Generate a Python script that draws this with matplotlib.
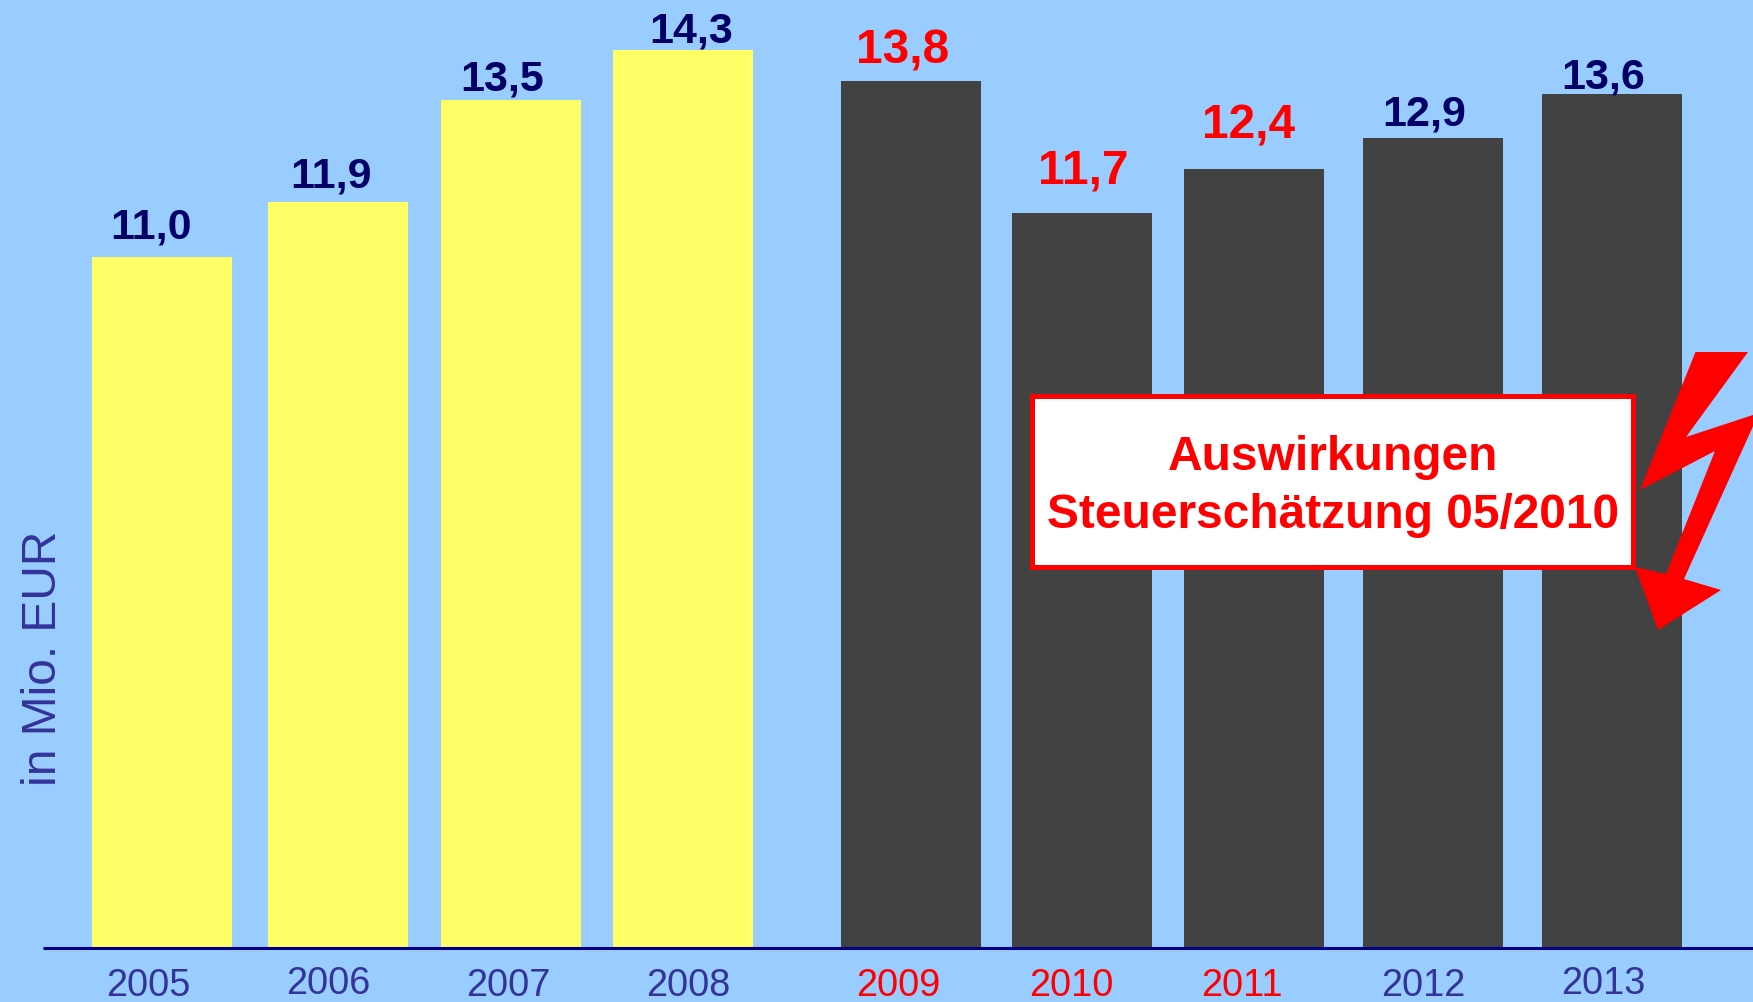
import matplotlib
matplotlib.use("Agg")
import matplotlib.pyplot as plt
from matplotlib.patches import Polygon, Rectangle

years = ["2005", "2006", "2007", "2008", "2009", "2010", "2011", "2012", "2013"]
values = [11.0, 11.87, 13.5, 14.29, 13.8, 11.7, 12.4, 12.89, 13.59]
value_labels = ["11,0", "11,9", "13,5", "14,3", "13,8", "11,7", "12,4", "12,9", "13,6"]
highlighted = [False, False, False, False, True, True, True, False, False]

# Layout, in reference pixels
W, H = 1753, 1002
BASE_Y = 947.5
PX_PER_UNIT = 62.8
bar_centers = [162, 338, 511, 683, 911, 1082, 1254, 1433, 1612]
bar_width = 140
year_pos = [(148, 986.5), (328, 984.5), (508, 985.5), (688, 985.5), (898, 985.5),
            (1071, 985.5), (1242, 985.5), (1423, 985.5), (1603, 983.5)]
label_pos = [(151, 227), (331, 176), (502, 79), (691, 31), (903, 51),
             (1083, 171), (1249, 126), (1424, 114), (1603, 77)]
bolt = [(1695.5, 352), (1748, 352), (1686, 437), (1759, 413), (1684, 579),
        (1721, 590), (1658, 630), (1635, 567), (1666, 574), (1715, 451), (1640, 490)]

BG = "#99CCFF"
YELLOW = "#FFFF66"
DARK = "#424242"
NAVY = "#000080"
TEXT = "#333399"
VALUE = "#000066"
RED = "#FF0000"

plt.rcParams["font.family"] = ["Liberation Sans", "DejaVu Sans"]

fig = plt.figure(figsize=(W / 100, H / 100), dpi=100, facecolor=BG)
ax = fig.add_axes([0, 0, 1, 1], facecolor=BG)
ax.set_xlim(0, W)
ax.set_ylim(-(H - BASE_Y) / PX_PER_UNIT, BASE_Y / PX_PER_UNIT)
ax.axis("off")

colors = [DARK if i >= 4 else YELLOW for i in range(len(values))]
ax.bar(bar_centers, values, width=bar_width, color=colors, linewidth=0, zorder=2)

# Overlay in pixel coordinates for annotations
ov = fig.add_axes([0, 0, 1, 1], facecolor="none")
ov.set_xlim(0, W)
ov.set_ylim(H, 0)
ov.axis("off")

ov.plot([43, W], [BASE_Y + 0.5, BASE_Y + 0.5], color=NAVY, lw=2.2, solid_capstyle="butt", zorder=3)

for (x, y), yr, hl in zip(year_pos, years, highlighted):
    ov.text(x, y, yr, ha="center", va="center", fontsize=27.3,
            color=RED if hl else TEXT)

for (x, y), lab, hl in zip(label_pos, value_labels, highlighted):
    ov.text(x, y, lab, ha="center", va="center", fontweight="bold",
            fontsize=34.4 if hl else 31, color=RED if hl else VALUE)

ov.text(43.5, 658, "in Mio. EUR", rotation=90, ha="center", va="center",
        fontsize=34.5, color=TEXT)

ov.add_patch(Polygon(bolt, closed=True, facecolor=RED, edgecolor="none", zorder=4))
ov.add_patch(Rectangle((1032.5, 396), 601, 171, facecolor="white", edgecolor=RED, lw=3.6, zorder=5))
ov.text(1333, 458, "Auswirkungen", ha="center", va="center", fontweight="bold",
        fontsize=34.5, color=RED, zorder=6)
ov.text(1333, 516, "Steuerschätzung 05/2010", ha="center", va="center", fontweight="bold",
        fontsize=34.5, color=RED, zorder=6)

fig.savefig("out.png", dpi=100, facecolor=BG)
